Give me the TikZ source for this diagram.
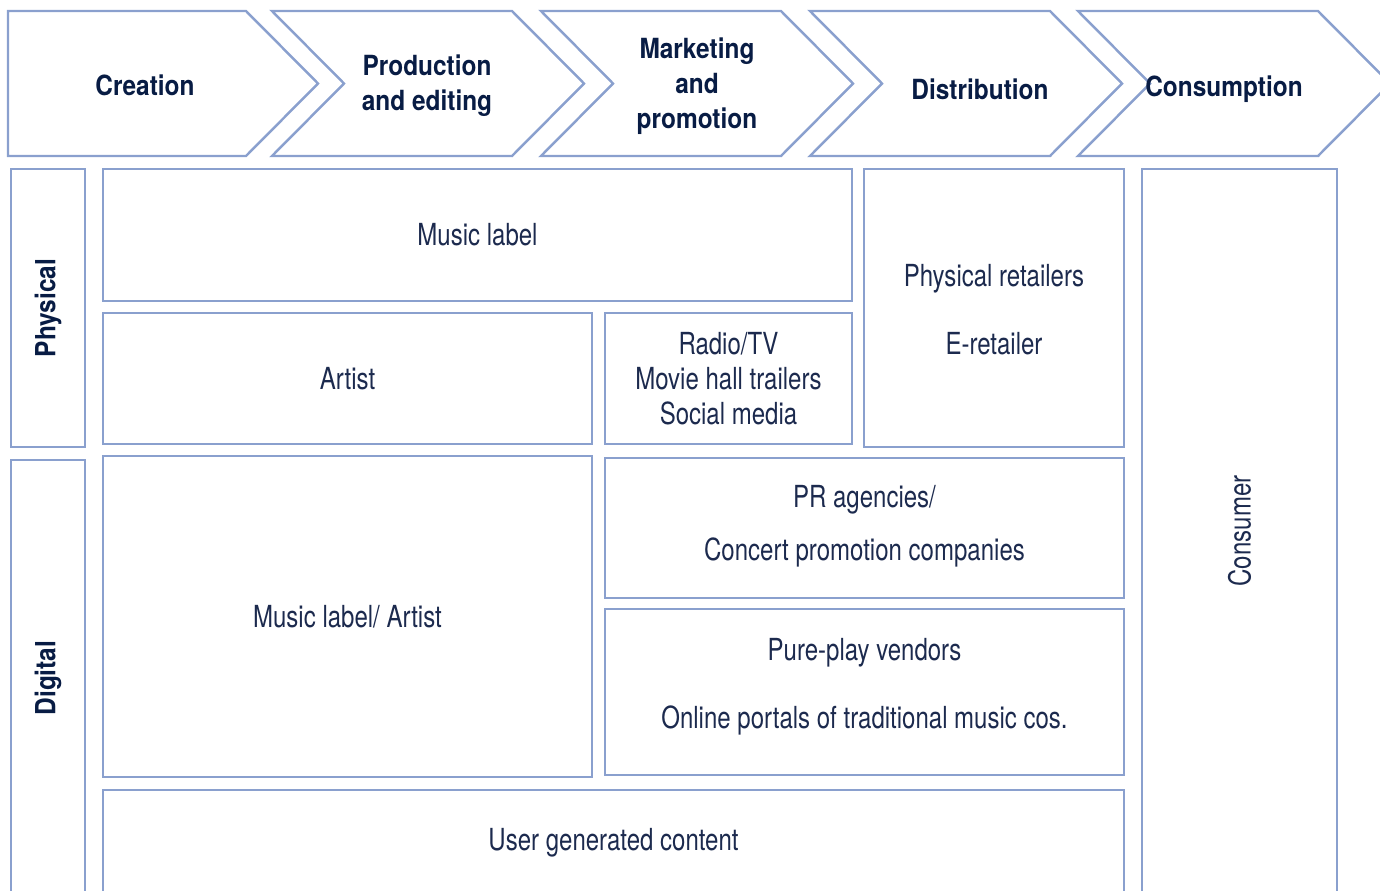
\documentclass[tikz,border=0pt]{standalone}
\usepackage{fontspec}
\setmainfont{TeX Gyre Heros}[FakeStretch=0.79, BoldFeatures={FakeStretch=0.88}]
\usepackage{tikz}
\usetikzlibrary{fit}

\definecolor{frameblue}{RGB}{138,160,206}
\definecolor{headnavy}{RGB}{8,28,68}
\definecolor{textnavy}{RGB}{28,42,78}

\tikzset{
    chevron/.style={draw=frameblue, line width=1.4pt, line join=miter},
    head/.style={text=headnavy, align=center, font=\bfseries\fontsize{15.8}{19.8}\selectfont},
    cell/.style={draw=frameblue, line width=1.4pt, inner sep=0pt},
    celltext/.style={text=textnavy, align=center, font=\fontsize{17.3}{19.8}\selectfont},
    side/.style={text=headnavy, rotate=90, font=\bfseries\fontsize{15.8}{19.8}\selectfont},
}

\begin{document}
\begin{tikzpicture}[x=0.02cm, y=-0.02cm]
    \useasboundingbox (0,0) rectangle (1380,890);
    \clip (0,0) rectangle (1380,890);

    % Define value chain steps
    \draw[chevron] (8,11) -- (246,11) -- (318,83.5) -- (246,156) -- (8,156) -- cycle;
    \foreach \l in {272,541,810,1078}
        \draw[chevron] (\l,11) -- (\l+240,11) -- (\l+312,83.5) -- (\l+240,156)
            -- (\l,156) -- (\l+72,83.5) -- cycle;
    \node[head] (creation)     at (145,85)  {Creation};
    \node[head] (production)   at (427,86)  {Production\\and editing};
    \node[head] (marketing)    at (697,86)  {Marketing\\and\\promotion};
    \node[head] (distribution) at (980,89)  {Distribution};
    \node[head] (consumption)  at (1224,89) {Consumption};

    % Define side labels
    \node[cell, fit={(11,169) (85,447)}] (physical) {};
    \node[side] at (physical.center) {Physical};
    \node[cell, fit={(11,460) (85,896)}] (digital) {};
    \node[side] at (digital.center) {Digital};

    % Define physical players
    \node[cell, fit={(103,169) (852,301)}] (label) {};
    \node[celltext] at (label.center) {Music label};
    \node[cell, fit={(103,313) (592,444)}] (artist) {};
    \node[celltext] at (artist.center) {Artist};
    \node[cell, fit={(605,313) (852,444)}] (media) {};
    \node[celltext] at (media.center) {Radio/TV\\Movie hall trailers\\Social media};
    \node[cell, fit={(864,169) (1124,447)}] (retail) {};
    \node[celltext] at ([yshift=-1pt]retail.center) {Physical retailers\\[1.1em]E-retailer};

    % Define digital players
    \node[cell, fit={(103,456) (592,777)}] (labelartist) {};
    \node[celltext] at (labelartist.center) {Music label/ Artist};
    \node[cell, fit={(605,458) (1124,598)}] (pr) {};
    \node[celltext] at ([yshift=1pt]pr.center) {PR agencies/\\[0.62em]Concert promotion companies};
    \node[cell, fit={(605,609) (1124,775)}] (vendors) {};
    \node[celltext] at ([yshift=3pt]vendors.center) {Pure-play vendors\\[1.08em]Online portals of traditional music cos.};
    \node[cell, fit={(103,790) (1124,896)}] (ugc) {};
    \node[celltext] at (ugc.center) {User generated content};

    % Define consumer column
    \node[cell, fit={(1142,169) (1337,893)}] (consumer) {};
    \node[celltext, rotate=90] at (consumer.center) {Consumer};
\end{tikzpicture}
\end{document}
